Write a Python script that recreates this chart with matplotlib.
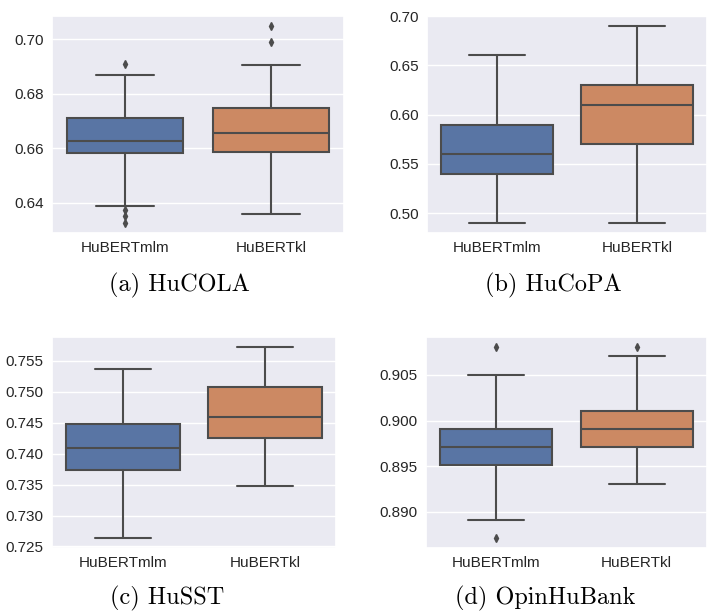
import matplotlib
matplotlib.use("Agg")
import matplotlib.pyplot as plt
import seaborn as sns
from matplotlib.ticker import MultipleLocator, FormatStrFormatter

sns.set_theme(style="darkgrid")
plt.rcParams['font.family'] = ['Liberation Sans', 'DejaVu Sans']

# models on the x axis
labels = ['HuBERTmlm', 'HuBERTkl']

# HuCOLA
cola_q1 = [0.6582, 0.6587]
cola_med = [0.6628, 0.6656]
cola_q3 = [0.6713, 0.6747]
cola_lo = [0.6389, 0.6357]
cola_hi = [0.6871, 0.6908]
cola_fliers = [[0.6910, 0.6372, 0.6350, 0.6325], [0.7050, 0.6989]]

# HuCoPA
copa_q1 = [0.54, 0.57]
copa_med = [0.56, 0.61]
copa_q3 = [0.59, 0.63]
copa_lo = [0.49, 0.49]
copa_hi = [0.66, 0.69]
copa_fliers = [[], []]

# HuSST
sst_q1 = [0.7373, 0.7426]
sst_med = [0.7409, 0.7459]
sst_q3 = [0.7448, 0.7507]
sst_lo = [0.7263, 0.7348]
sst_hi = [0.7537, 0.7573]
sst_fliers = [[], []]

# OpinHuBank
opin_q1 = [0.8951, 0.8971]
opin_med = [0.8971, 0.8991]
opin_q3 = [0.8991, 0.9011]
opin_lo = [0.8891, 0.8931]
opin_hi = [0.9050, 0.9071]
opin_fliers = [[0.9081, 0.8871], [0.9081]]

captions = ['(a) HuCOLA', '(b) HuCoPA', '(c) HuSST', '(d) OpinHuBank']

box_colors = ['#5975A4', '#CC8963']
gray = '#4C4C4C'

panels = [
    (cola_q1, cola_med, cola_q3, cola_lo, cola_hi, cola_fliers),
    (copa_q1, copa_med, copa_q3, copa_lo, copa_hi, copa_fliers),
    (sst_q1, sst_med, sst_q3, sst_lo, sst_hi, sst_fliers),
    (opin_q1, opin_med, opin_q3, opin_lo, opin_hi, opin_fliers),
]

W, H = 709, 614
fig = plt.figure(figsize=(W / 100, H / 100), dpi=100)

# axes boxes in pixels: left, top, right, bottom
boxes_px = [(52, 16, 344, 233), (427, 16, 707, 233),
            (52, 337, 336, 548), (426, 337, 707, 548)]
steps = [0.02, 0.05, 0.005, 0.005]
fmts = ['%.2f', '%.2f', '%.3f', '%.3f']
cap_pos = [(179, 285), (553, 285), (167, 598), (545, 598)]

for i, (q1, med, q3, lo, hi, fl) in enumerate(panels):
    l, t, r, b = boxes_px[i]
    ax = fig.add_axes([l / W, 1 - b / H, (r - l) / W, (b - t) / H])
    stats = []
    for j in range(2):
        stats.append(dict(q1=q1[j], med=med[j], q3=q3[j],
                          whislo=lo[j], whishi=hi[j], fliers=fl[j]))
    art = ax.bxp(stats, positions=[0, 1], widths=0.8, capwidths=0.4,
                 patch_artist=True, showfliers=True,
                 boxprops=dict(edgecolor=gray, linewidth=1.5),
                 medianprops=dict(color=gray, linewidth=1.5),
                 whiskerprops=dict(color=gray, linewidth=1.5),
                 capprops=dict(color=gray, linewidth=1.5),
                 flierprops=dict(marker='d', markersize=4,
                                 markerfacecolor=gray, markeredgecolor=gray,
                                 linestyle='none'))
    for patch, c in zip(art['boxes'], box_colors):
        patch.set_facecolor(c)
    ax.set_xlim(-0.5, 1.5)
    ax.set_xticks([0, 1])
    ax.set_xticklabels(labels)
    ax.xaxis.grid(False)
    ax.yaxis.set_major_locator(MultipleLocator(steps[i]))
    ax.yaxis.set_major_formatter(FormatStrFormatter(fmts[i]))
    ax.tick_params(labelsize=11, pad=6, length=0, colors='#262626')
    fig.text(cap_pos[i][0] / W, 1 - cap_pos[i][1] / H, captions[i],
             family='cmr10', fontsize=17.5, ha='center', va='center',
             color='black')

fig.savefig('out.png', dpi=100)
